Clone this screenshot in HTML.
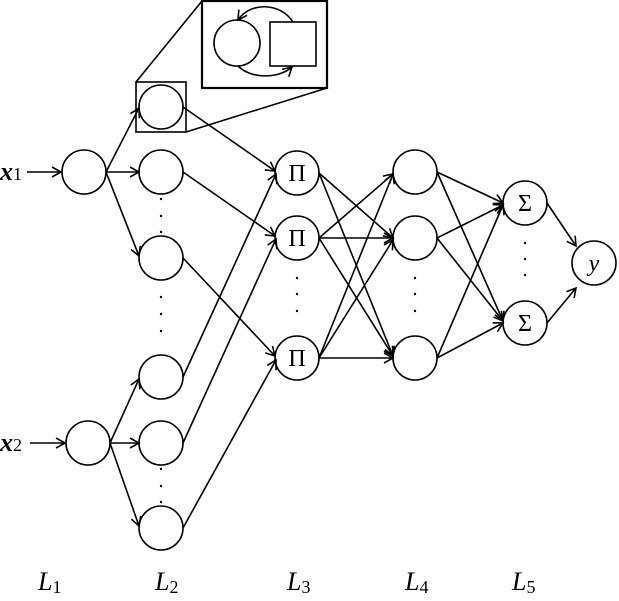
<!DOCTYPE html>
<html><head><style>body{margin:0;background:#fff}svg{display:block}</style></head><body>
<svg width="619" height="601" viewBox="0 0 619 601" xmlns="http://www.w3.org/2000/svg" font-family="Liberation Serif, serif">
<defs>
<marker id="a" markerWidth="12" markerHeight="12" refX="10" refY="6" orient="auto" markerUnits="userSpaceOnUse">
<path d="M1,1 L10,6 L1,11" fill="none" stroke="#000" stroke-width="1.6"/>
</marker>
</defs>
<g stroke="#000" stroke-width="1.6" fill="none">
<!-- inset -->
<rect x="202" y="1" width="125" height="87" stroke-width="2.2"/>
<circle cx="237" cy="43" r="23"/>
<rect x="270" y="22" width="46" height="44"/>
<path d="M293,22 C280,2 250,2 238,20" marker-end="url(#a)"/>
<path d="M238,66 C252,80 280,78 292,67" marker-end="url(#a)"/>
<rect x="136" y="82" width="50" height="50"/>
<line x1="136" y1="82" x2="202" y2="1"/>
<line x1="186" y1="132" x2="327" y2="88"/>
<!-- nodes -->
<circle cx="84" cy="172" r="22"/>
<circle cx="88" cy="443" r="22"/>
<circle cx="161" cy="107" r="22"/>
<circle cx="161" cy="172" r="22"/>
<circle cx="161" cy="258" r="22"/>
<circle cx="161" cy="377" r="22"/>
<circle cx="161" cy="443" r="22"/>
<circle cx="161" cy="528" r="22"/>
<circle cx="297" cy="173" r="22"/>
<circle cx="297" cy="238" r="22"/>
<circle cx="297" cy="358" r="22"/>
<circle cx="415" cy="172" r="22"/>
<circle cx="415" cy="238" r="22"/>
<circle cx="415" cy="358" r="22"/>
<circle cx="525" cy="203" r="22"/>
<circle cx="525" cy="323" r="22"/>
<circle cx="594" cy="263" r="22"/>
<!-- edges -->
<line x1="27" y1="172" x2="61" y2="172" marker-end="url(#a)"/>
<line x1="30" y1="443" x2="65" y2="443" marker-end="url(#a)"/>
<line x1="106" y1="172" x2="139" y2="108" marker-end="url(#a)"/>
<line x1="106" y1="172" x2="139" y2="172" marker-end="url(#a)"/>
<line x1="106" y1="172" x2="139" y2="256" marker-end="url(#a)"/>
<line x1="110" y1="443" x2="139" y2="379" marker-end="url(#a)"/>
<line x1="110" y1="443" x2="139" y2="443" marker-end="url(#a)"/>
<line x1="110" y1="443" x2="139" y2="526" marker-end="url(#a)"/>
<line x1="183" y1="107" x2="275" y2="171" marker-end="url(#a)"/>
<line x1="183" y1="172" x2="275" y2="236" marker-end="url(#a)"/>
<line x1="183" y1="258" x2="275" y2="356" marker-end="url(#a)"/>
<line x1="183" y1="377" x2="276" y2="174" marker-end="url(#a)"/>
<line x1="183" y1="443" x2="276" y2="239" marker-end="url(#a)"/>
<line x1="183" y1="528" x2="276" y2="360" marker-end="url(#a)"/>
<g>
<line x1="319" y1="173" x2="393" y2="238" marker-end="url(#a)"/>
<line x1="319" y1="173" x2="393" y2="356" marker-end="url(#a)"/>
<line x1="319" y1="238" x2="393" y2="174" marker-end="url(#a)"/>
<line x1="319" y1="238" x2="393" y2="238" marker-end="url(#a)"/>
<line x1="319" y1="238" x2="393" y2="356" marker-end="url(#a)"/>
<line x1="319" y1="358" x2="393" y2="174" marker-end="url(#a)"/>
<line x1="319" y1="358" x2="393" y2="240" marker-end="url(#a)"/>
<line x1="319" y1="358" x2="393" y2="358" marker-end="url(#a)"/>
</g>
<line x1="437" y1="172" x2="503" y2="203" marker-end="url(#a)"/>
<line x1="437" y1="172" x2="503" y2="321" marker-end="url(#a)"/>
<line x1="437" y1="238" x2="503" y2="205" marker-end="url(#a)"/>
<line x1="437" y1="238" x2="503" y2="321" marker-end="url(#a)"/>
<line x1="437" y1="358" x2="503" y2="205" marker-end="url(#a)"/>
<line x1="437" y1="358" x2="503" y2="323" marker-end="url(#a)"/>
<line x1="547" y1="203" x2="576" y2="246" marker-end="url(#a)"/>
<line x1="547" y1="323" x2="576" y2="288" marker-end="url(#a)"/>
</g>
<g fill="#000">
<circle cx="161" cy="199" r="1.2"/><circle cx="161" cy="216" r="1.2"/><circle cx="161" cy="232" r="1.2"/>
<circle cx="161" cy="297" r="1.2"/><circle cx="161" cy="314" r="1.2"/><circle cx="161" cy="331" r="1.2"/>
<circle cx="161" cy="469" r="1.2"/><circle cx="161" cy="486" r="1.2"/><circle cx="161" cy="502" r="1.2"/>
<circle cx="297" cy="278" r="1.2"/><circle cx="297" cy="294" r="1.2"/><circle cx="297" cy="311" r="1.2"/>
<circle cx="415" cy="278" r="1.2"/><circle cx="415" cy="294" r="1.2"/><circle cx="415" cy="311" r="1.2"/>
<circle cx="525" cy="243" r="1.2"/><circle cx="525" cy="259" r="1.2"/><circle cx="525" cy="275" r="1.2"/>
</g>
<g font-size="24" text-anchor="middle" fill="#000">
<text x="297" y="181">Π</text><text x="297" y="246">Π</text><text x="297" y="366">Π</text>
<text x="525" y="211">Σ</text><text x="525" y="331">Σ</text>
<text x="594" y="271" font-style="italic">y</text>
</g>
<g font-size="26" fill="#000">
<text x="0" y="180" font-style="italic" font-weight="bold">x<tspan font-size="18" font-style="normal" font-weight="normal" dy="0">1</tspan></text>
<text x="0" y="451" font-style="italic" font-weight="bold">x<tspan font-size="18" font-style="normal" font-weight="normal">2</tspan></text>
<text x="38" y="590" font-style="italic">L<tspan font-size="18" font-style="normal" dy="3">1</tspan></text>
<text x="155" y="590" font-style="italic">L<tspan font-size="18" font-style="normal" dy="3">2</tspan></text>
<text x="287" y="590" font-style="italic">L<tspan font-size="18" font-style="normal" dy="3">3</tspan></text>
<text x="405" y="590" font-style="italic">L<tspan font-size="18" font-style="normal" dy="3">4</tspan></text>
<text x="512" y="590" font-style="italic">L<tspan font-size="18" font-style="normal" dy="3">5</tspan></text>
</g>
</svg>
</body></html>
